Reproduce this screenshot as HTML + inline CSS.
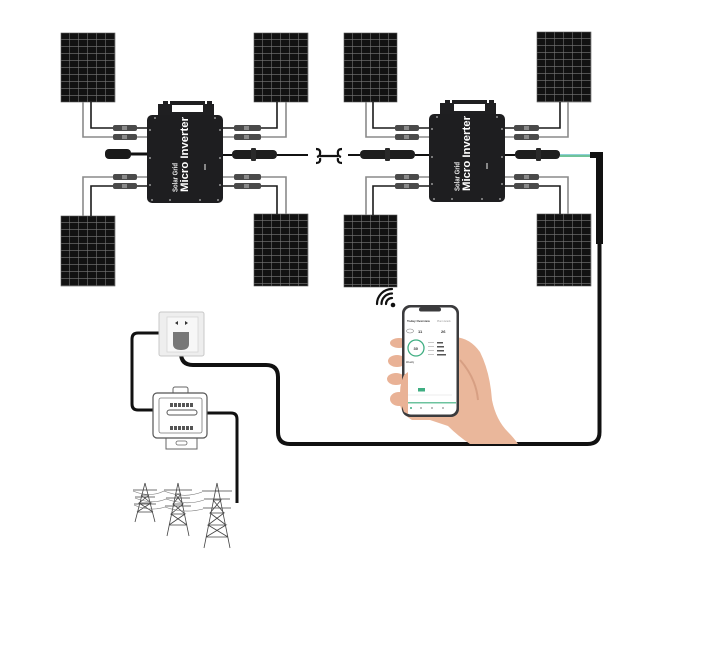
<!DOCTYPE html>
<html><head><meta charset="utf-8"><style>
html,body{margin:0;padding:0;background:#fff;}
svg{display:block;}
text{font-family:"Liberation Sans",sans-serif;}
</style></head><body>
<svg width="701" height="672" viewBox="0 0 701 672" xmlns="http://www.w3.org/2000/svg">
<defs>
<pattern id="grid" patternUnits="userSpaceOnUse" width="9" height="7">
<rect width="9" height="7" fill="#121212"/>
<path d="M8.7 0V7M0 6.7H9" stroke="#7a7a7a" stroke-width="0.55"/>
</pattern>
</defs>
<rect width="701" height="672" fill="#fff"/>

<!-- PANELS -->
<g stroke="#555" stroke-width="0.6">
<g transform="translate(61,33)"><rect width="54" height="69" fill="url(#grid)"/></g>
<g transform="translate(254,33)"><rect width="54" height="69" fill="url(#grid)"/></g>
<g transform="translate(61,216)"><rect width="54" height="70" fill="url(#grid)"/></g>
<g transform="translate(254,214)"><rect width="54" height="72" fill="url(#grid)"/></g>
<g transform="translate(344,33)"><rect width="53" height="69" fill="url(#grid)"/></g>
<g transform="translate(537,32)"><rect width="54" height="70" fill="url(#grid)"/></g>
<g transform="translate(344,215)"><rect width="53" height="72" fill="url(#grid)"/></g>
<g transform="translate(537,214)"><rect width="54" height="72" fill="url(#grid)"/></g>
</g>

<!-- DC WIRES -->
<g fill="none" stroke-width="1.6">
<path d="M91 102V128H147M91 216V186H147M277 102V128H223M277 214V186H223" stroke="#1a1a1a"/>
<path d="M83 102V137H147M83 216V177H147M286 102V137H223M286 214V177H223" stroke="#8a8a8a"/>
<path d="M373 102V128H429M373 215V186H429M560 102V128H504M560 214V186H504" stroke="#1a1a1a"/>
<path d="M366 102V137H429M366 215V177H429M568 102V137H504M568 214V177H504" stroke="#8a8a8a"/>
</g>

<!-- MC4 connectors -->
<g>
<g fill="#4a4a4a">
<rect x="113" y="125" width="24" height="6" rx="2"/><rect x="113" y="134" width="24" height="6" rx="2"/>
<rect x="113" y="174" width="24" height="6" rx="2"/><rect x="113" y="183" width="24" height="6" rx="2"/>
<rect x="234" y="125" width="27" height="6" rx="2"/><rect x="234" y="134" width="27" height="6" rx="2"/>
<rect x="234" y="174" width="27" height="6" rx="2"/><rect x="234" y="183" width="27" height="6" rx="2"/>
<rect x="395" y="125" width="24" height="6" rx="2"/><rect x="395" y="134" width="24" height="6" rx="2"/>
<rect x="395" y="174" width="24" height="6" rx="2"/><rect x="395" y="183" width="24" height="6" rx="2"/>
<rect x="514" y="125" width="25" height="6" rx="2"/><rect x="514" y="134" width="25" height="6" rx="2"/>
<rect x="514" y="174" width="25" height="6" rx="2"/><rect x="514" y="183" width="25" height="6" rx="2"/>
</g>
<g fill="#8a8a8a">
<rect x="122" y="126" width="5" height="4"/><rect x="122" y="135" width="5" height="4"/>
<rect x="122" y="175" width="5" height="4"/><rect x="122" y="184" width="5" height="4"/>
<rect x="244" y="126" width="5" height="4"/><rect x="244" y="135" width="5" height="4"/>
<rect x="244" y="175" width="5" height="4"/><rect x="244" y="184" width="5" height="4"/>
<rect x="404" y="126" width="5" height="4"/><rect x="404" y="135" width="5" height="4"/>
<rect x="404" y="175" width="5" height="4"/><rect x="404" y="184" width="5" height="4"/>
<rect x="524" y="126" width="5" height="4"/><rect x="524" y="135" width="5" height="4"/>
<rect x="524" y="175" width="5" height="4"/><rect x="524" y="184" width="5" height="4"/>
</g>
</g>

<!-- AC cables top -->
<g stroke="#111" fill="none">
<path d="M130 154H147" stroke-width="3"/>
<path d="M223 155H232M277 155H308M348 155H360M415 155H429M504 155H515" stroke-width="2"/>
</g>
<rect x="105" y="149" width="26" height="10" rx="4" fill="#1a1a1a"/>
<rect x="232" y="150" width="45" height="9" rx="4" fill="#1e1e1e"/>
<rect x="251" y="148" width="5" height="13" rx="1" fill="#2a2a2a"/>
<rect x="360" y="150" width="55" height="9" rx="4" fill="#1e1e1e"/>
<rect x="385" y="148" width="5" height="13" rx="1" fill="#2a2a2a"/>
<rect x="515" y="150" width="45" height="9" rx="4" fill="#1e1e1e"/>
<rect x="536" y="148" width="5" height="13" rx="1" fill="#2a2a2a"/>
<path d="M560 155.5H591" stroke="#6fc39a" stroke-width="3"/>
<path d="M560 154.5H591" stroke="#8fd0d8" stroke-width="1"/>
<rect x="590" y="152" width="13" height="6" fill="#111"/>
<rect x="596" y="152" width="7" height="92" fill="#111"/>

<!-- break bracket -->
<path d="M316 149Q321 149 320 154Q320 156 317 157M316 163Q321 163 320 158M320 156H338M342 149Q337 149 338 154Q338 156 341 157M342 163Q337 163 338 158" fill="none" stroke="#111" stroke-width="2.2"/>

<!-- INVERTERS -->
<g>
<path d="M158 115V104H163V101H168V104H170V101H205V104H207V101H212V104H214V115Z" fill="#1f1f21"/>
<rect x="172" y="105" width="31" height="7" fill="#fff"/>
<rect x="147" y="115" width="76" height="88" rx="5" fill="#1e1e20"/>
<g fill="#bbb"><circle cx="150" cy="130" r="0.9"/><circle cx="150" cy="158" r="0.9"/><circle cx="150" cy="185" r="0.9"/><circle cx="220" cy="130" r="0.9"/><circle cx="220" cy="158" r="0.9"/><circle cx="220" cy="185" r="0.9"/><circle cx="152" cy="200" r="0.9"/><circle cx="170" cy="200" r="0.9"/><circle cx="200" cy="200" r="0.9"/><circle cx="218" cy="200" r="0.9"/><circle cx="155" cy="118" r="0.9"/><circle cx="215" cy="118" r="0.9"/></g>
<text transform="translate(177.5,192) rotate(-90)" font-size="7" font-weight="bold" fill="#e8e8e8" textLength="29" lengthAdjust="spacingAndGlyphs">Solar Grid</text>
<text transform="translate(188,192) rotate(-90)" font-size="11" font-weight="bold" fill="#fff" textLength="75" lengthAdjust="spacingAndGlyphs">Micro Inverter</text>
<rect x="204" y="164" width="2" height="6" fill="#888"/>
</g>
<g transform="translate(282,-1)">
<path d="M158 115V104H163V101H168V104H170V101H205V104H207V101H212V104H214V115Z" fill="#1f1f21"/>
<rect x="172" y="105" width="31" height="7" fill="#fff"/>
<rect x="147" y="115" width="76" height="88" rx="5" fill="#1e1e20"/>
<g fill="#bbb"><circle cx="150" cy="130" r="0.9"/><circle cx="150" cy="158" r="0.9"/><circle cx="150" cy="185" r="0.9"/><circle cx="220" cy="130" r="0.9"/><circle cx="220" cy="158" r="0.9"/><circle cx="220" cy="185" r="0.9"/><circle cx="152" cy="200" r="0.9"/><circle cx="170" cy="200" r="0.9"/><circle cx="200" cy="200" r="0.9"/><circle cx="218" cy="200" r="0.9"/><circle cx="155" cy="118" r="0.9"/><circle cx="215" cy="118" r="0.9"/></g>
<text transform="translate(177.5,192) rotate(-90)" font-size="7" font-weight="bold" fill="#e8e8e8" textLength="29" lengthAdjust="spacingAndGlyphs">Solar Grid</text>
<text transform="translate(188,192) rotate(-90)" font-size="11" font-weight="bold" fill="#fff" textLength="75" lengthAdjust="spacingAndGlyphs">Micro Inverter</text>
<rect x="204" y="164" width="2" height="6" fill="#888"/>
</g>

<!-- MAIN CABLE -->
<path d="M599.5 243V432Q599.5 444 587.5 444H290Q278 444 278 432V377Q278 365 266 365H193Q181 365 181 353V348" fill="none" stroke="#111" stroke-width="4"/>
<path d="M160 333H138Q132 333 132 339V404Q132 410 138 410H153" fill="none" stroke="#111" stroke-width="3"/>
<path d="M207 413H231Q237 413 237 419V503" fill="none" stroke="#111" stroke-width="3"/>

<!-- SOCKET -->
<rect x="159" y="312" width="45" height="44" rx="2" fill="#eeeeee" stroke="#c8c8c8" stroke-width="1"/>
<rect x="167" y="317" width="31" height="35" fill="#f7f7f7" stroke="#d6d6d6" stroke-width="0.8"/>
<path d="M175 323l3 -2v4z" fill="#333"/>
<path d="M188 323l-3 -2v4z" fill="#333"/>
<path d="M173 332H189V344Q189 350 181 350Q173 350 173 344Z" fill="#777"/>

<!-- METER -->
<rect x="173" y="387" width="15" height="7" rx="2" fill="#fff" stroke="#666" stroke-width="1"/>
<rect x="166" y="437" width="31" height="12" fill="#fff" stroke="#666" stroke-width="1"/>
<rect x="176" y="441" width="11" height="4" rx="2" fill="none" stroke="#666" stroke-width="0.8"/>
<rect x="153" y="393" width="54" height="45" rx="4" fill="#fff" stroke="#555" stroke-width="1.2"/>
<rect x="159" y="398" width="43" height="35" rx="2" fill="#fff" stroke="#777" stroke-width="0.8"/>
<g fill="#555"><rect x="170" y="403" width="3" height="4"/><rect x="174" y="403" width="3" height="4"/><rect x="178" y="403" width="3" height="4"/><rect x="182" y="403" width="3" height="4"/><rect x="186" y="403" width="3" height="4"/><rect x="190" y="403" width="3" height="4"/>
<rect x="170" y="426" width="3" height="4"/><rect x="174" y="426" width="3" height="4"/><rect x="178" y="426" width="3" height="4"/><rect x="182" y="426" width="3" height="4"/><rect x="186" y="426" width="3" height="4"/><rect x="190" y="426" width="3" height="4"/></g>
<rect x="167" y="410" width="30" height="5" rx="2.5" fill="#fff" stroke="#555" stroke-width="1"/>

<!-- TOWERS -->
<g fill="none" stroke="#444" stroke-width="0.8">
<g>
<path d="M145 483L135 522M145 483L155 522M137 512L153 512M139 503L151 503M141 495L149 495M137 512L151 503L139 503L149 495M153 512L139 503M151 503L141 495"/>
<path d="M133 490H157M135 497H155M134 504H156"/>
</g>
<g>
<path d="M178 483L167 536M178 483L189 536M169 525L187 525M171 514L185 514M173 504L183 504M175 494L181 494M169 525L185 514L171 514L183 504L173 504L181 494M187 525L171 514M185 514L173 504M183 504L175 494"/>
<path d="M164 490H192M166 498H190M165 506H191"/>
</g>
<g>
<path d="M217 483L204 548M217 483L230 548M206 537L228 537M208 525L226 525M210 513L224 513M213 500L221 500M215 491L219 491M206 537L226 525L208 525L224 513L210 513L221 500L213 500M228 537L208 525M226 525L210 513M224 513L213 500"/>
<path d="M202 491H232M204 499H230M203 508H231"/>
</g>
<path d="M133 491Q150 498 164 491Q184 499 202 492M135 498Q152 505 166 499Q186 506 204 500M134 505Q150 512 165 507Q184 514 203 509" stroke="#777" stroke-width="0.6"/>
</g>

<!-- WIFI -->
<g fill="none" stroke="#111" stroke-width="2.2" stroke-linecap="round">
<path d="M386 304A6 6 0 0 1 392 298"/>
<path d="M381.5 304A10.5 10.5 0 0 1 392 293.5"/>
<path d="M377 304A15 15 0 0 1 392 289"/>
</g>
<circle cx="393" cy="305" r="2.3" fill="#111"/>

<!-- HAND -->
<path d="M455 337Q470 338 480 352Q490 372 492 400Q496 420 508 432Q514 438 518 444H470Q458 436 448 426L430 420H412Q402 414 400 405Z" fill="#eab79b"/>
<ellipse cx="399" cy="343" rx="9" ry="5" fill="#e9b296"/>
<ellipse cx="397" cy="361" rx="9" ry="6" fill="#e9b296"/>
<ellipse cx="396" cy="379" rx="9" ry="6" fill="#e9b296"/>
<ellipse cx="399" cy="399" rx="9" ry="7" fill="#e9b296"/>
<path d="M460 360Q476 378 478 400" fill="none" stroke="#d79f83" stroke-width="2"/>

<!-- PHONE -->
<rect x="402" y="305" width="57" height="112" rx="8" fill="#3b3b3d"/>
<rect x="404.5" y="307.5" width="52" height="107" rx="6.5" fill="#fff"/>
<rect x="419" y="307.5" width="22" height="4" rx="2" fill="#3b3b3d"/>
<g font-size="3" fill="#333">
<text x="407" y="322" font-weight="bold">Today Overview</text>
<text x="437" y="322" fill="#999" font-size="2.5">Plant details</text>
<text x="418" y="333" font-size="4" font-weight="bold">11</text>
<text x="441" y="333" font-size="4" font-weight="bold">26</text>
</g>
<ellipse cx="410" cy="331" rx="3.5" ry="2" fill="none" stroke="#888" stroke-width="0.6"/>
<circle cx="416" cy="348" r="8" fill="none" stroke="#3fae82" stroke-width="1.3"/>
<text x="413.5" y="350" font-size="4" fill="#333" font-weight="bold">30</text>
<g fill="#555"><rect x="437" y="342" width="6" height="1.5"/><rect x="437" y="346" width="7" height="1.5"/><rect x="437" y="350" width="7" height="1.5"/><rect x="437" y="354" width="9" height="1.5"/>
<rect x="428" y="342" width="6" height="0.8" fill="#bbb"/><rect x="428" y="346" width="6" height="0.8" fill="#bbb"/><rect x="428" y="350" width="6" height="0.8" fill="#bbb"/><rect x="428" y="354" width="6" height="0.8" fill="#bbb"/></g>
<text x="406" y="363" font-size="2.5" fill="#333">Weekly</text>
<rect x="418" y="388" width="7" height="3.5" fill="#3fae82"/>
<path d="M407 395H452" stroke="#ddd" stroke-width="0.5"/>
<rect x="405" y="402" width="51" height="1.5" fill="#6cc39e"/>
<g fill="#3fae82"><circle cx="411" cy="408" r="1"/></g>
<g fill="#aaa"><circle cx="421" cy="408" r="1"/><circle cx="432" cy="408" r="1"/><circle cx="443" cy="408" r="1"/></g>
<path d="M404 375Q396 392 404 412L408 414V372Z" fill="#e9b296"/>
</svg>
</body></html>
